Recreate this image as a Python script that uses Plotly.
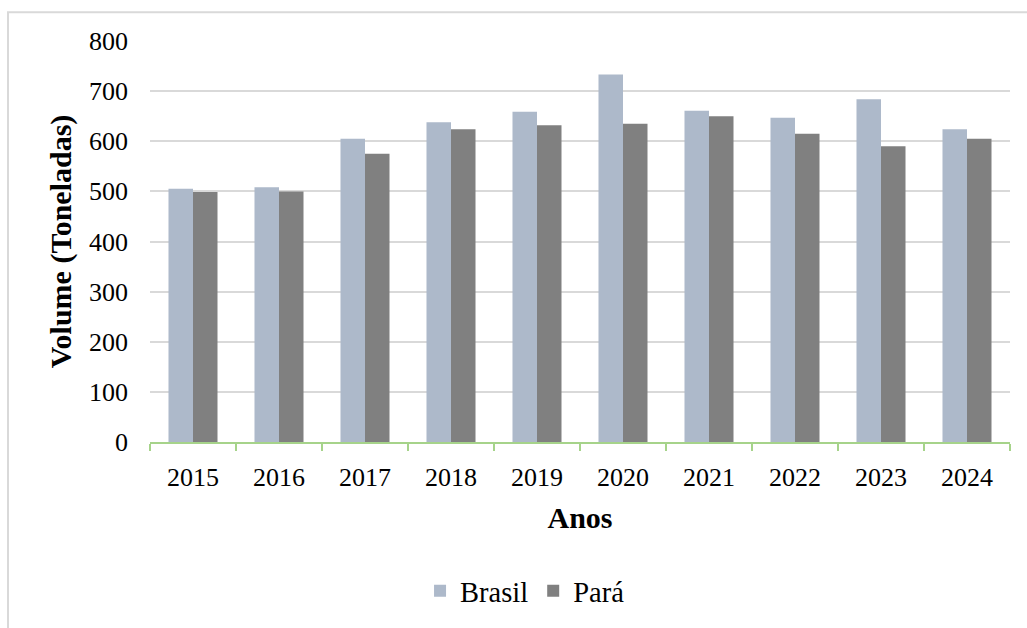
import plotly.graph_objects as go

years = ["2015", "2016", "2017", "2018", "2019", "2020", "2021", "2022", "2023", "2024"]
brasil = [505, 508, 605, 638, 659, 733, 661, 647, 684, 624]
para = [499, 500, 575, 624, 632, 635, 650, 615, 590, 605]

FONT = "Liberation Serif, Times New Roman, serif"

fig = go.Figure()
fig.add_trace(go.Bar(name="Brasil", x=years, y=brasil, marker=dict(color="#ADB9CA", line=dict(width=0))))
fig.add_trace(go.Bar(name="Pará", x=years, y=para, marker=dict(color="#808080", line=dict(width=0))))

fig.update_layout(
    width=1027, height=628,
    margin=dict(l=150, r=17, t=41, b=182),
    paper_bgcolor="white", plot_bgcolor="white",
    barmode="group", bargap=0.43, bargroupgap=0,
    font=dict(family=FONT, color="black", size=26),
    showlegend=True,
    legend=dict(orientation="h", x=0.314, xanchor="left", y=-0.372, yanchor="middle",
                font=dict(size=28.5, family=FONT), traceorder="normal"),
    xaxis=dict(
        type="category",
        showline=True, linecolor="#A6D38A", linewidth=1.5,
        ticks="outside", tickson="boundaries", ticklen=7, tickcolor="#A6D38A", tickwidth=1.5,
        showgrid=False,
        ticklabelstandoff=11,
        tickfont=dict(size=26, family=FONT),
        title=dict(text="<b>Anos</b>", font=dict(size=30, family=FONT), standoff=16),
    ),
    yaxis=dict(
        range=[0, 800], dtick=100, tick0=0,
        showgrid=True, gridcolor="#D9D9D9", gridwidth=2,
        zeroline=False, showline=False, ticks="",
        ticklabelstandoff=21,
        tickfont=dict(size=26, family=FONT),
        title=dict(text="<b>Volume (Toneladas)</b>", font=dict(size=30, family=FONT), standoff=8),
    ),
    shapes=[dict(type="rect", xref="paper", yref="paper",
                 x0=(8 - 150) / 860, x1=1.2, y0=-0.6, y1=(446 - 12) / 405,
                 line=dict(color="#D9D9D9", width=2), fillcolor="rgba(0,0,0,0)", layer="below")],
)

fig.write_html("out.html")
